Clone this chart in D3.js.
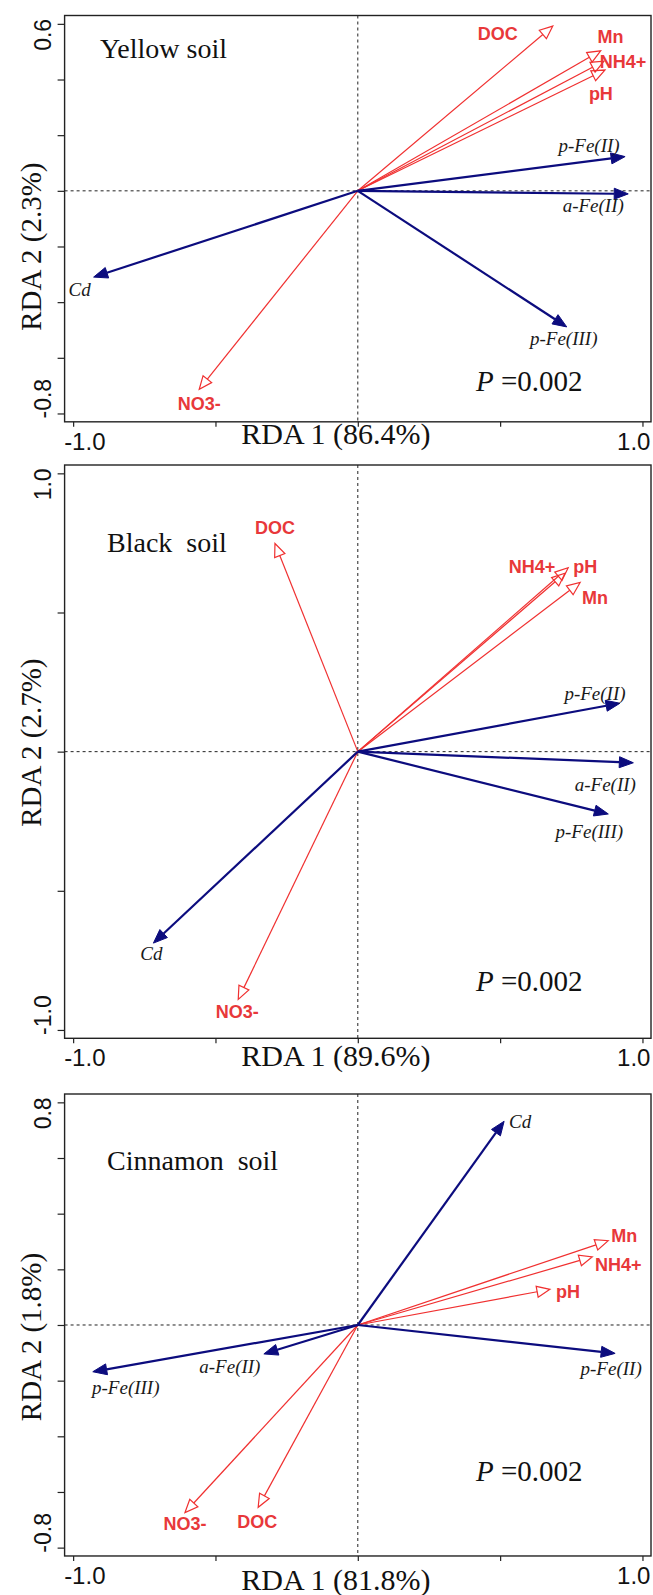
<!DOCTYPE html>
<html lang="en">
<head>
<meta charset="utf-8">
<title>RDA biplots</title>
<script src="https://cdn.jsdelivr.net/npm/d3@7"></script>
<style>
  body { margin: 0; background: #fff; }
</style>
</head>
<body>
<div id="chart"></div>
<script>
// ---- data ----
var soils = ["Yellow soil", "Black  soil", "Cinnamon  soil"];
var rda1Labels = ["RDA 1 (86.4%)", "RDA 1 (89.6%)", "RDA 1 (81.8%)"];
var rda2Labels = ["RDA 2 (2.3%)", "RDA 2 (2.7%)", "RDA 2 (1.8%)"];
var pValues = ["0.002", "0.002", "0.002"];

// explanatory variables (red, open heads)
var envNames = ["DOC", "Mn", "NH4+", "pH", "NO3-"];
var envX = [
  [0.685, 0.853, 0.865, 0.868, -0.557],
  [-0.291, 0.781, 0.728, 0.739, -0.420],
  [-0.350, 0.880, 0.824, 0.675, -0.607]
];
var envY = [
  [0.592, 0.503, 0.466, 0.434, -0.713],
  [0.748, 0.608, 0.641, 0.661, -0.890],
  [-0.655, 0.303, 0.245, 0.128, -0.674]
];

// iron fractions and Cd (blue, filled heads)
var feNames = ["p-Fe(II)", "a-Fe(II)", "p-Fe(III)", "Cd"];
var feX = [
  [0.939, 0.950, 0.734, -0.928],
  [0.921, 0.968, 0.880, -0.718],
  [0.904, -0.330, -0.931, 0.514]
];
var feY = [
  [0.123, -0.011, -0.489, -0.310],
  [0.174, -0.040, -0.224, -0.688],
  [-0.102, -0.104, -0.168, 0.732]
];

// ticks
var xTicks = [-1, -0.5, 0, 0.5, 1];
var xTickLabels = ["-1.0", "1.0"];
var yTicks = [
  [-0.8, -0.6, -0.4, -0.2, 0, 0.2, 0.4, 0.6],
  [-1, -0.5, 0, 0.5, 1],
  [-0.8, -0.6, -0.4, -0.2, 0, 0.2, 0.4, 0.6, 0.8]
];
var yTickLabels = [["-0.8", "0.6"], ["-1.0", "1.0"], ["-0.8", "0.8"]];

// ---- layout ----
var W = 653, H = 1595;
var left = 64.6, right = 651;
var unit = 278.3;                       // px per RDA unit, vertical
var panelTop = [15.5, 465, 1094];
var yExtent = [[-0.83, 0.63], [-1.03, 1.03], [-0.83, 0.83]];
var xTitleGap = [22, 28, 34];
var yTitleShift = [28, -9, 12];
var titlePos = [[-0.906, 0.479], [-0.881, 0.719], [-0.881, 0.556]];
var pPos = [[0.415, -0.721], [0.415, -0.860], [0.415, -0.559]];

// label offsets from arrow tips (px)
var envOff = [
  [[-55, 7], [10, -14], [19, 0], [-4, 23], [0, 14]],
  [[0, -16], [15, 15], [-33, -7], [17, -1], [-1, 12]],
  [[-1, 14], [16, -5], [26, 8], [18, 2], [0, 11]]
];
var feOff = [
  [[-36, -11], [-35, 12], [-3, 12], [-14, 13]],
  [[-25, -9], [-28, 22], [-19, 18], [-2, 11]],
  [[-4, 15], [-34, 13], [33, 16], [16, 0]]
];

var red = "#f03030", redText = "#e8383a", navy = "#0c0c7e";
var sans = "'Liberation Sans', Arial, sans-serif";
var serif = "'Liberation Serif', 'Times New Roman', serif";

var svg = d3.select("#chart").append("svg")
  .attr("width", W).attr("height", H)
  .style("background", "#fff");

var x = d3.scaleLinear().domain([-1.03, 1.03]).range([left, right]);

function arrow(g, x0, y0, x1, y1, color, width, filled, L, hw) {
  var dx = x1 - x0, dy = y1 - y0, len = Math.sqrt(dx * dx + dy * dy);
  var ux = dx / len, uy = dy / len;
  var bx = x1 - ux * L, by = y1 - uy * L;
  var nx = -uy, ny = ux;
  g.append("line")
    .attr("x1", x0).attr("y1", y0).attr("x2", bx).attr("y2", by)
    .attr("stroke", color).attr("stroke-width", width);
  g.append("path")
    .attr("d", "M" + x1 + "," + y1 + "L" + (bx + nx * hw) + "," + (by + ny * hw) +
      "L" + (bx - nx * hw) + "," + (by - ny * hw) + "Z")
    .attr("fill", filled ? color : "none")
    .attr("stroke", color).attr("stroke-width", filled ? 1 : 1.2)
    .attr("stroke-linejoin", "miter");
}

soils.forEach(function(name, i) {
  var ext = yExtent[i];
  var top = panelTop[i];
  var h = (ext[1] - ext[0]) * unit;
  var bottom = top + h;
  var y = d3.scaleLinear().domain(ext).range([bottom, top]);
  var g = svg.append("g");

  // zero lines
  g.append("line")
    .attr("x1", x(0)).attr("x2", x(0)).attr("y1", top).attr("y2", bottom)
    .attr("stroke", "#222").attr("stroke-width", 1).attr("stroke-dasharray", "3,3");
  g.append("line")
    .attr("x1", left).attr("x2", right).attr("y1", y(0)).attr("y2", y(0))
    .attr("stroke", "#222").attr("stroke-width", 1).attr("stroke-dasharray", "3,3");

  // ticks
  var ya = g.append("g").attr("transform", "translate(" + left + ",0)")
    .call(d3.axisLeft(y).tickValues(yTicks[i]).tickSize(7).tickFormat(""));
  var xa = g.append("g").attr("transform", "translate(0," + bottom + ")")
    .call(d3.axisBottom(x).tickValues(xTicks).tickSize(5).tickFormat(""));
  [ya, xa].forEach(function(a) {
    a.select(".domain").remove();
    a.selectAll(".tick line").attr("stroke", "#222").attr("stroke-width", 1.2);
  });

  // frame
  g.append("rect")
    .attr("x", left).attr("y", top).attr("width", right - left).attr("height", h)
    .attr("fill", "none").attr("stroke", "#222").attr("stroke-width", 1.4);

  // tick labels
  var yMin = d3.min(yTicks[i]), yMax = d3.max(yTicks[i]);
  g.append("text")
    .attr("transform", "translate(51," + (y(yMax) - 5) + ") rotate(-90)")
    .attr("text-anchor", "end")
    .style("font", "23px " + sans).attr("fill", "#111")
    .text(yTickLabels[i][1]);
  g.append("text")
    .attr("transform", "translate(51," + (y(yMin) + 5) + ") rotate(-90)")
    .attr("text-anchor", "start")
    .style("font", "23px " + sans).attr("fill", "#111")
    .text(yTickLabels[i][0]);
  g.append("text")
    .attr("x", x(-1) - 9).attr("y", bottom + 28)
    .attr("text-anchor", "start")
    .style("font", "24px " + sans).attr("fill", "#111")
    .text(xTickLabels[0]);
  g.append("text")
    .attr("x", x(1) + 8).attr("y", bottom + 28)
    .attr("text-anchor", "end")
    .style("font", "24px " + sans).attr("fill", "#111")
    .text(xTickLabels[1]);

  // axis titles
  g.append("text")
    .attr("x", x(0) - 22).attr("y", bottom + xTitleGap[i])
    .attr("text-anchor", "middle")
    .style("font", "30px " + serif).attr("fill", "#111")
    .text(rda1Labels[i]);
  g.append("text")
    .attr("transform", "translate(41," + (top + h / 2 + yTitleShift[i]) + ") rotate(-90)")
    .attr("text-anchor", "middle")
    .style("font", "29px " + serif).attr("fill", "#111")
    .text(rda2Labels[i]);

  // soil title and P value
  g.append("text")
    .attr("x", x(titlePos[i][0])).attr("y", y(titlePos[i][1]))
    .style("font", "28px " + serif).style("white-space", "pre").attr("fill", "#111")
    .text(name);
  var p = g.append("text")
    .attr("x", x(pPos[i][0])).attr("y", y(pPos[i][1]))
    .style("font", "29px " + serif).style("white-space", "pre").attr("fill", "#111");
  p.append("tspan").style("font-style", "italic").text("P");
  p.append("tspan").text(" =" + pValues[i]);

  // arrows
  var ox = x(0), oy = y(0);
  envNames.forEach(function(v, j) {
    var tx = x(envX[i][j]), ty = y(envY[i][j]);
    arrow(g, ox, oy, tx, ty, red, 1.2, false, 13, 5.5);
  });
  feNames.forEach(function(v, j) {
    var tx = x(feX[i][j]), ty = y(feY[i][j]);
    arrow(g, ox, oy, tx, ty, navy, 2.2, true, 14, 5.5);
  });

  // arrow labels
  envNames.forEach(function(v, j) {
    g.append("text")
      .attr("x", x(envX[i][j]) + envOff[i][j][0])
      .attr("y", y(envY[i][j]) + envOff[i][j][1])
      .attr("dy", "0.36em").attr("text-anchor", "middle")
      .style("font", "bold 18px " + sans).attr("fill", redText)
      .text(v);
  });
  feNames.forEach(function(v, j) {
    g.append("text")
      .attr("x", x(feX[i][j]) + feOff[i][j][0])
      .attr("y", y(feY[i][j]) + feOff[i][j][1])
      .attr("dy", "0.33em").attr("text-anchor", "middle")
      .style("font", "italic 19px " + serif).attr("fill", "#1a1a1a")
      .text(v);
  });
});
</script>
</body>
</html>
